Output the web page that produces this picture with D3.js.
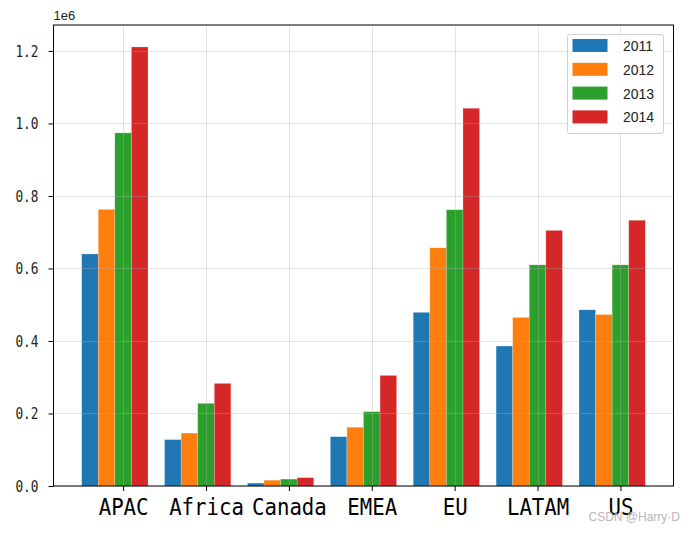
<!DOCTYPE html>
<html><head><meta charset="utf-8">
<script src="https://cdn.jsdelivr.net/npm/d3@7"></script>
<style>body{margin:0;background:#fff}svg{display:block}</style>
</head><body>
<svg id="c" width="695" height="533"></svg>
<script>
const regions = ["APAC","Africa","Canada","EMEA","EU","LATAM","US"];
const years = ["2011","2012","2013","2014"];
const sales2011 = [640000,128000,8000,136000,479000,386000,486000];
const sales2012 = [763000,146000,16000,162000,657000,465000,473000];
const sales2013 = [974000,228000,19000,205000,762000,610000,610000];
const sales2014 = [1211000,283000,23000,305000,1042000,705000,733000];
const yTicks = [0,200000,400000,600000,800000,1000000,1200000];
const colors = ["#1f77b4","#ff7f0e","#2ca02c","#d62728"];

const series = [sales2011,sales2012,sales2013,sales2014];
const svg = d3.select("#c");
const L=53.5,R=673.5,T=25,B=486;
const barW=0.2;
const offsets=[-0.4,-0.2,0,0.2];
const x=d3.scaleLinear().domain([-0.84,6.64]).range([L,R]);
const ymax=d3.max(series.flat())*1.05;
const y=d3.scaleLinear().domain([0,ymax]).range([B,T]);

// bars
series.forEach((s,si)=>{
  svg.append("g").selectAll("rect").data(s).join("rect")
    .attr("x",(d,i)=>x(i+offsets[si]-barW/2))
    .attr("width",x(barW)-x(0))
    .attr("y",d=>y(d))
    .attr("height",d=>B-y(d))
    .attr("fill",colors[si])
    .attr("stroke","rgba(255,255,255,0.35)")
    .attr("stroke-width",0.6);
});

// grid (on top of bars)
const grid=svg.append("g").attr("stroke","rgba(176,176,176,0.35)").attr("stroke-width",1);
grid.selectAll(".gx").data(regions).join("line")
  .attr("x1",(d,i)=>Math.round(x(i))+0.5).attr("x2",(d,i)=>Math.round(x(i))+0.5)
  .attr("y1",T).attr("y2",B);
grid.selectAll(".gy").data(yTicks).join("line")
  .attr("y1",d=>Math.round(y(d))+0.5).attr("y2",d=>Math.round(y(d))+0.5)
  .attr("x1",L).attr("x2",R);

// axes
const xAxis=d3.axisBottom(x).tickValues(d3.range(regions.length)).tickFormat(i=>regions[i]).tickSize(5).tickSizeOuter(0);
const gx=svg.append("g").attr("transform",`translate(0,${B})`).call(xAxis);
gx.select(".domain").remove();
gx.selectAll(".tick line").attr("stroke","#000").attr("stroke-width",1);
gx.selectAll(".tick text").attr("y",0).attr("dy",0)
  .attr("transform","translate(0,29) scale(0.9,1)")
  .attr("font-family","DejaVu Sans Mono").attr("font-size",23).attr("fill","#000");

const yAxis=d3.axisLeft(y).tickValues(yTicks).tickFormat(d=>(d/1e6).toFixed(1)).tickSize(5).tickSizeOuter(0);
const gy=svg.append("g").attr("transform",`translate(${L},0)`).call(yAxis);
gy.select(".domain").remove();
gy.selectAll(".tick line").attr("stroke","#000").attr("stroke-width",1);
gy.selectAll(".tick text").attr("x",0).attr("dy",0)
  .attr("transform","translate(-15,5.5) scale(0.8,1)")
  .attr("font-family","DejaVu Sans Mono").attr("font-size",16).attr("fill","#222");

// frame
svg.append("rect").attr("x",L).attr("y",T).attr("width",R-L).attr("height",B-T)
  .attr("fill","none").attr("stroke","#000").attr("stroke-width",1);

// offset text
svg.append("text").attr("x",L).attr("y",20).text("1e6")
  .attr("font-family","Liberation Sans").attr("font-size",13).attr("fill","#222");

// legend
const lg=svg.append("g");
lg.append("rect").attr("x",567.5).attr("y",34.5).attr("width",96).attr("height",99).attr("rx",2)
  .attr("fill","rgba(255,255,255,0.8)").attr("stroke","#d0d0d0");
years.forEach((yr,i)=>{
  const cy=45.5+i*23.8;
  lg.append("rect").attr("x",572.5).attr("y",cy-6.5).attr("width",35).attr("height",13).attr("fill",colors[i]);
  lg.append("text").attr("x",623).attr("y",cy+5.5).text(yr)
    .attr("font-family","Liberation Sans").attr("font-size",14).attr("fill","#222");
});

// watermark
svg.append("text").attr("x",680).attr("y",521).attr("text-anchor","end").text("CSDN @Harry·D")
  .attr("font-family","Liberation Sans").attr("font-size",12).attr("fill","#b8b8b8");
</script>
</body></html>
